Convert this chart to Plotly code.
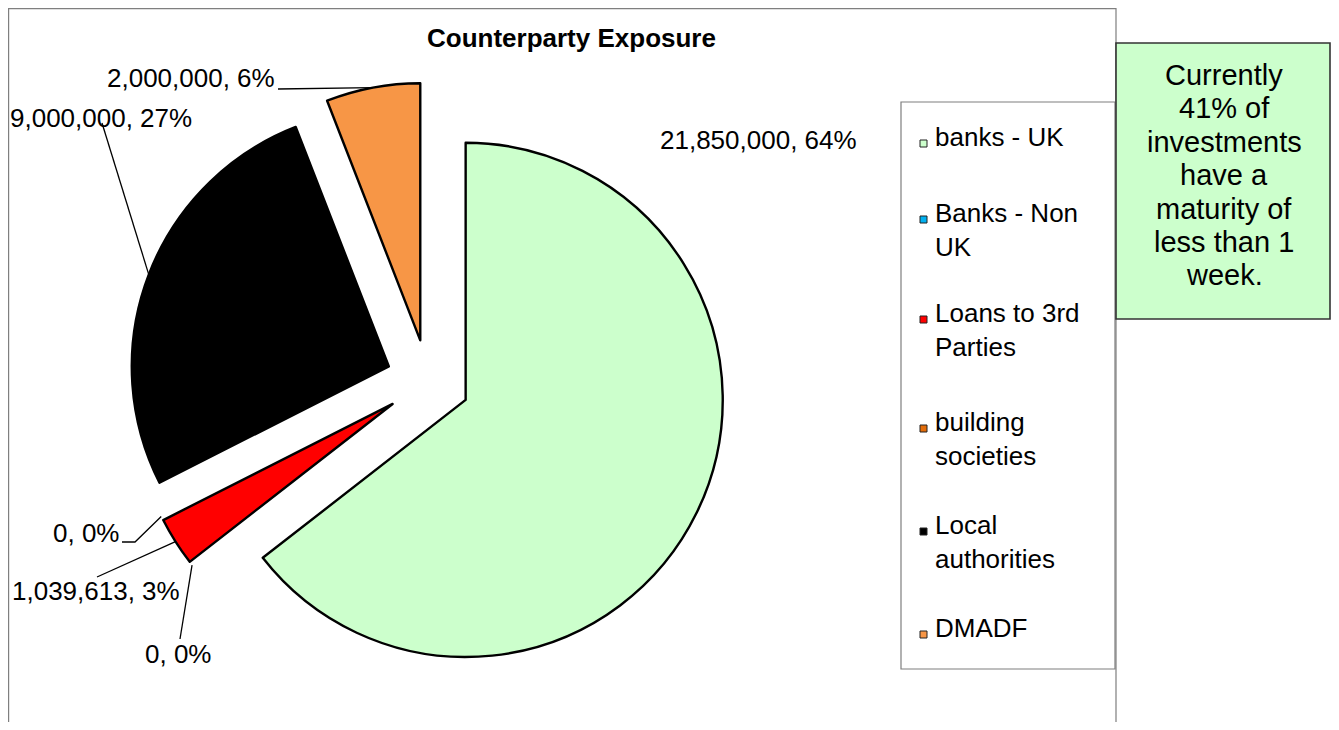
import math
import plotly.graph_objects as go

# ---------------- data ----------------
categories = ["banks - UK", "Banks - Non UK", "Loans to 3rd Parties",
              "building societies", "Local authorities", "DMADF"]
amounts = [21850000, 0, 1039613, 0, 9000000, 2000000]
legend_text = ["banks - UK", "Banks - Non<br>UK", "Loans to 3rd<br>Parties",
               "building<br>societies", "Local<br>authorities", "DMADF"]
note_lines = ["Currently", "41% of", "investments", "have a",
              "maturity of", "less than 1", "week."]
title_text = "Counterparty Exposure"

# ---------------- styles / layout ----------------
slice_colors = ["#CCFFCC", "#00B0F0", "#FF0000", "#E36C09", "#000000", "#F79646"]
OFF = 8                      # page body margin of the html page
W, H = 1339 - 2 * OFF, 730 - 2 * OFF  # figure size
PULL = 0.163
PIE_CX, PIE_CY, PIE_HALF = 428, 381.5, 299   # page pixels
FONT = "Liberation Sans, Arial, sans-serif"


def px(x):
    return (x - OFF) / W


def py(y):
    return 1 - (y - OFF) / H


DOM_X = [px(PIE_CX - PIE_HALF), px(PIE_CX + PIE_HALF)]
DOM_Y = [py(PIE_CY + PIE_HALF), py(PIE_CY - PIE_HALF)]

total = sum(amounts)
labels_txt = [f"{v:,}, {round(100 * v / total)}%" for v in amounts]

fig = go.Figure()
fig.add_trace(go.Pie(
    labels=categories,
    values=amounts,
    sort=False,
    direction="clockwise",
    rotation=0,
    pull=[PULL] * len(amounts),
    textinfo="none",
    hovertemplate="%{label}: %{value:,} (%{percent})<extra></extra>",
    marker=dict(colors=slice_colors,
                line=dict(color="#000000", width=[2.4 if v > 0 else 0 for v in amounts])),
    domain=dict(x=DOM_X, y=DOM_Y),
    showlegend=False,
))

# pie geometry (same as plotly's own: r = min(w,h)/2/(1+maxPull)), in page pixels
w = W * (DOM_X[1] - DOM_X[0])
h = H * (DOM_Y[1] - DOM_Y[0])
r = min(w, h) / 2 / (1 + PULL)
cx = OFF + W * (DOM_X[0] + DOM_X[1]) / 2
cy = OFF + H * (1 - DOM_Y[0]) - h / 2
R = r * (1 + PULL)

# text positions (page pixels) and leader-line text-side points for each category
label_pos = [(758, 140), (178, 654), (96, 591), (86, 533), (101, 118), (191, 78)]
leader_pts = [None, [(180, 639)], [(97, 577)], [(122, 542), (135, 542)],
              [(102, 123)], [(278, 89)]]

shapes = []
annotations = []
cum = 0
for i, v in enumerate(amounts):
    a0 = cum / total * 360
    a1 = (cum + v) / total * 360
    cum += v
    mid = math.radians((a0 + a1) / 2)
    ax = cx + R * math.sin(mid)
    ay = cy - R * math.cos(mid)
    lx, ly = label_pos[i]
    annotations.append(dict(x=px(lx), y=py(ly), xref="paper", yref="paper",
                            text=labels_txt[i], showarrow=False,
                            xanchor="center", yanchor="middle",
                            font=dict(family=FONT, size=26, color="#000000")))
    if leader_pts[i]:
        pts = leader_pts[i] + [(ax, ay)]
        path = "M " + " L ".join(f"{px(x):.5f},{py(y):.5f}" for x, y in pts)
        shapes.append(dict(type="path", path=path, xref="paper", yref="paper",
                           line=dict(color="#000000", width=1.3)))

# chart-area frame
shapes.append(dict(type="rect", xref="paper", yref="paper",
                   x0=px(8.6), x1=px(1116), y0=py(760), y1=py(8.6),
                   line=dict(color="#7f7f7f", width=1.2), fillcolor="rgba(0,0,0,0)"))
# legend box
shapes.append(dict(type="rect", xref="paper", yref="paper",
                   x0=px(901), x1=px(1115), y0=py(669), y1=py(102),
                   line=dict(color="#7f7f7f", width=1.2), fillcolor="#FFFFFF",
                   layer="below"))
# note box
shapes.append(dict(type="rect", xref="paper", yref="paper",
                   x0=px(1116), x1=px(1330), y0=py(319), y1=py(43),
                   line=dict(color="#333333", width=1.6), fillcolor="#CCFFCC"))

# title
annotations.append(dict(x=px(571), y=py(38), xref="paper", yref="paper",
                        text=f"<b>{title_text}</b>", showarrow=False,
                        xanchor="center", yanchor="middle",
                        font=dict(family=FONT, size=26, color="#000000")))

# custom legend
legend_y = [137, 213, 313, 422, 525, 628]
for i, name in enumerate(legend_text):
    y0 = legend_y[i]
    shapes.append(dict(type="rect", xref="paper", yref="paper",
                       x0=px(920), x1=px(927), y0=py(y0 + 10), y1=py(y0 + 3),
                       line=dict(color="#222222", width=1), fillcolor=slice_colors[i]))
    annotations.append(dict(x=px(933), y=py(y0 - 17), xref="paper", yref="paper",
                            text=name, showarrow=False, align="left",
                            xanchor="left", yanchor="top",
                            font=dict(family=FONT, size=26, color="#000000")))

# note text
for j, line in enumerate(note_lines):
    annotations.append(dict(x=px(1224), y=py(75 + j * 33.4), xref="paper", yref="paper",
                            text=line, showarrow=False,
                            xanchor="center", yanchor="middle",
                            font=dict(family=FONT, size=29, color="#000000")))

fig.update_layout(
    width=W, height=H,
    margin=dict(l=0, r=0, t=0, b=0),
    paper_bgcolor="#FFFFFF",
    plot_bgcolor="#FFFFFF",
    shapes=shapes,
    annotations=annotations,
    showlegend=False,
)

fig.write_html("out.html")
